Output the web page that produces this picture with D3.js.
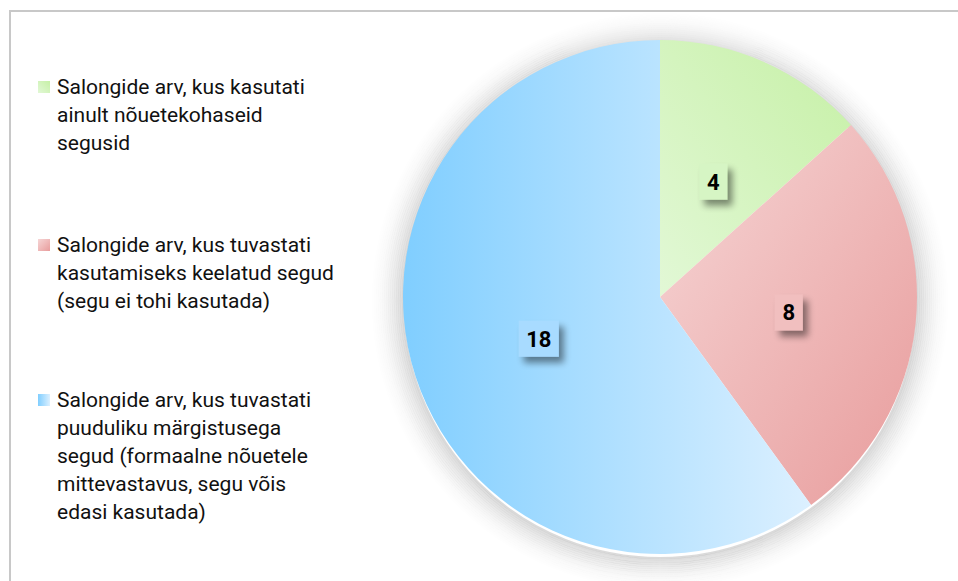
<!DOCTYPE html>
<html>
<head>
<meta charset="utf-8">
<script src="https://cdn.jsdelivr.net/npm/d3@7"></script>
<style>
  body { margin: 0; background: #fff; }
  svg { display: block; font-family: Roboto, "Noto Sans", sans-serif; }
</style>
</head>
<body>
<div id="chart"></div>
<script>
// data
const categories = [
  "Salongide arv, kus kasutati ainult nõuetekohaseid segusid",
  "Salongide arv, kus tuvastati kasutamiseks keelatud segud (segu ei tohi kasutada)",
  "Salongide arv, kus tuvastati puuduliku märgistusega segud (formaalne nõuetele mittevastavus, segu võis edasi kasutada)"
];
const values = [4, 8, 18];
const legendLines = [
  ["Salongide arv, kus kasutati", "ainult nõuetekohaseid", "segusid"],
  ["Salongide arv, kus tuvastati", "kasutamiseks keelatud segud", "(segu ei tohi kasutada)"],
  ["Salongide arv, kus tuvastati", "puuduliku märgistusega", "segud (formaalne nõuetele", "mittevastavus, segu võis", "edasi kasutada)"]
];
// gradient stops per slice
const gradients = [
  {from: "#e2f8d6", to: "#c6f0a6", x1: 0, y1: 1, x2: 1, y2: 0},
  {from: "#f6d6d6", to: "#e89c9c", x1: 0, y1: 0, x2: 1, y2: 1},
  {from: "#80ceff", to: "#dcf0ff", x1: 0, y1: 0, x2: 1, y2: 0}
];

const W = 958, H = 581;
const cx = 660, cy = 297, r = 257;
const haloW = 36;

const svg = d3.select("#chart")
  .append("svg")
    .attr("width", W)
    .attr("height", H);

const defs = svg.append("defs");

// label box shadow
const lf = defs.append("filter").attr("id", "boxShadow")
  .attr("x", "-50%").attr("y", "-50%").attr("width", "220%").attr("height", "220%");
lf.append("feGaussianBlur").attr("in", "SourceAlpha").attr("stdDeviation", 3.5).attr("result", "b");
lf.append("feOffset").attr("in", "b").attr("dx", 5).attr("dy", 6).attr("result", "o");
lf.append("feComponentTransfer").attr("in", "o").attr("result", "s")
  .append("feFuncA").attr("type", "linear").attr("slope", 0.45);
const lm = lf.append("feMerge");
lm.append("feMergeNode").attr("in", "s");
lm.append("feMergeNode").attr("in", "SourceGraphic");

gradients.forEach((g, i) => {
  const lg = defs.append("linearGradient").attr("id", "grad" + i)
    .attr("x1", g.x1).attr("y1", g.y1).attr("x2", g.x2).attr("y2", g.y2);
  lg.append("stop").attr("offset", "0%").attr("stop-color", g.from);
  lg.append("stop").attr("offset", "100%").attr("stop-color", g.to);
});

// pie
const pie = d3.pie().sort(null).value(d => d);
const arc = d3.arc().innerRadius(0).outerRadius(r);
const arcs = pie(values);

const g = svg.append("g").attr("transform", `translate(${cx},${cy})`);

// soft halo: stacked rings fading outwards
g.append("g")
  .selectAll("circle")
  .data(d3.range(0, haloW, 2))
  .enter()
  .append("circle")
    .attr("cx", 0).attr("cy", 4)
    .attr("r", k => r + k)
    .attr("fill", "none")
    .attr("stroke", "#8c8c8c")
    .attr("stroke-width", 2.2)
    .attr("stroke-opacity", k => 0.32 * Math.pow(1 - k / haloW, 2));

// frame
svg.append("path")
  .attr("d", `M10,${H} L10,11 L${W},11`)
  .attr("fill", "none")
  .attr("stroke", "#c8c8c8")
  .attr("stroke-width", 2);

g.append("g")
  .selectAll("path")
  .data(arcs)
  .enter()
  .append("path")
    .attr("d", arc)
    .attr("fill", (d, i) => `url(#grad${i})`);

// labels
const labelArc = d3.arc().innerRadius(r * 0.5).outerRadius(r * 0.5);
const boxFill = ["#d6f5c4", "#f1bfbf", "#a8dbff"];
const lbl = g.selectAll(".lbl")
  .data(arcs)
  .enter()
  .append("g")
    .attr("class", "lbl")
    .attr("transform", d => {
      const c = labelArc.centroid(d);
      return `translate(${c[0] + 1},${c[1] + 2})`;
    });

lbl.append("rect")
  .attr("x", d => d.data >= 10 ? -20 : -14)
  .attr("y", -18)
  .attr("width", d => d.data >= 10 ? 40 : 28)
  .attr("height", 36)
  .attr("fill", (d, i) => boxFill[i])
  .attr("filter", "url(#boxShadow)");

lbl.append("text")
  .attr("text-anchor", "middle")
  .attr("dy", "0.36em")
  .style("font-size", "22px")
  .style("font-weight", "bold")
  .style("fill", "#000")
  .text(d => d.data);

// legend
const legendTop = [87, 245, 400];
const lineH = 28;
const leg = svg.append("g");
legendLines.forEach((lines, i) => {
  const gg = leg.append("g").attr("transform", `translate(0,${legendTop[i]})`);
  gg.append("rect")
    .attr("x", 38).attr("y", -6)
    .attr("width", 12).attr("height", 12)
    .attr("fill", `url(#grad${i})`);
  gg.append("text")
    .attr("x", 57)
    .style("font-size", "21px")
    .style("fill", "#111")
    .selectAll("tspan")
    .data(lines)
    .enter()
    .append("tspan")
      .attr("x", 57)
      .attr("y", (d, j) => j * lineH)
      .attr("dy", "0.35em")
      .text(d => d);
});
</script>
</body>
</html>
